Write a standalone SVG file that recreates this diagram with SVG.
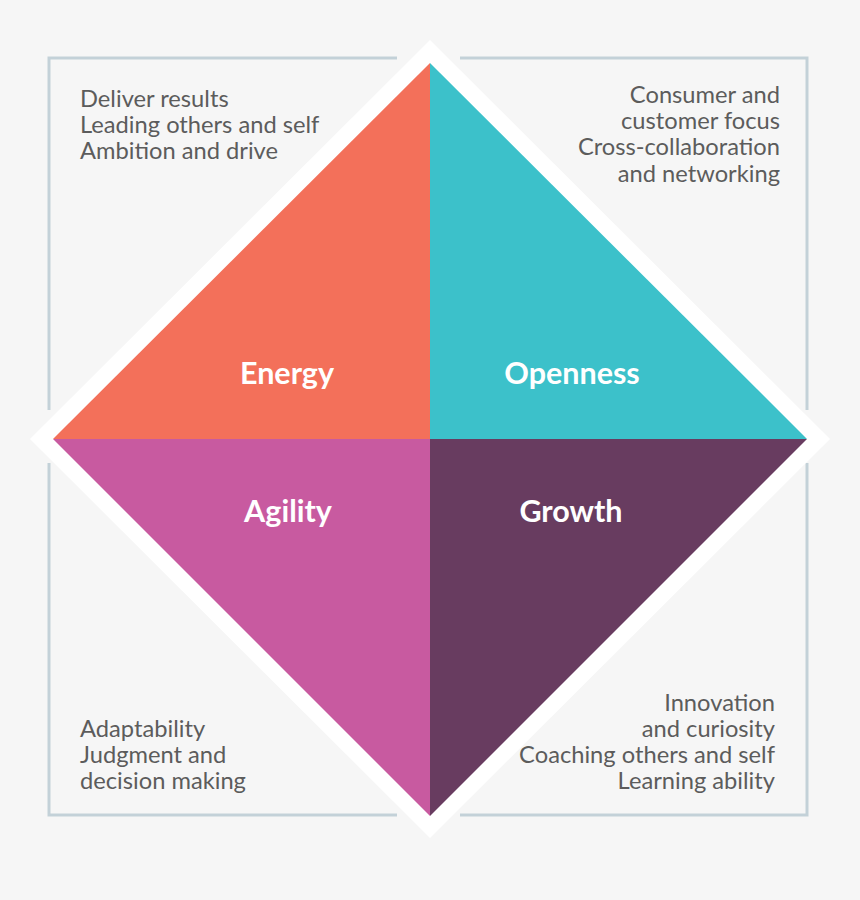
<svg xmlns="http://www.w3.org/2000/svg" width="860" height="900" viewBox="0 0 860 900">
<style>
.frame{fill:none;stroke:#c3d1d8;stroke-width:3}
.t{font-family:Lato,"Open Sans",sans-serif;font-size:23.7px;fill:#5c5c5c}
.r{text-anchor:end}
.lbl{font-family:Lato,"Open Sans",sans-serif;font-size:30.5px;font-weight:bold;fill:#ffffff;text-anchor:middle}
</style>
<rect width="860" height="900" fill="#f6f6f6"/>
<g id="connectors">
<path class="frame" d="M397,58 H49 V410"/>
<path class="frame" d="M49,463 V815 H397"/>
<path class="frame" d="M460,58 H807 V410"/>
<path class="frame" d="M807,463 V815 H460"/>
</g>
<polygon points="430,40 830,439 430,838 30,439" fill="#ffffff"/>
<g id="energy">
<polygon points="430,63 430,439 53,439" fill="#f3705a"/>
<text class="lbl" x="287" y="384">Energy</text>
</g>
<g id="openness">
<polygon points="430,63 807,439 430,439" fill="#3cc1ca"/>
<text class="lbl" x="572" y="384">Openness</text>
</g>
<g id="agility">
<polygon points="53,439 430,439 430,816" fill="#c85aa0"/>
<text class="lbl" x="288" y="522">Agility</text>
</g>
<g id="growth">
<polygon points="430,439 807,439 430,816" fill="#683c60"/>
<text class="lbl" x="571" y="522">Growth</text>
</g>
<g id="energy-text">
<text class="t" x="80" y="107">Deliver results</text>
<text class="t" x="80" y="133">Leading others and self</text>
<text class="t" x="80" y="159">Ambition and drive</text>
</g>
<g id="openness-text">
<text class="t r" x="780" y="103">Consumer and</text>
<text class="t r" x="780" y="129">customer focus</text>
<text class="t r" x="780" y="155">Cross-collaboration</text>
<text class="t r" x="780" y="182">and networking</text>
</g>
<g id="agility-text">
<text class="t" x="80" y="737">Adaptability</text>
<text class="t" x="80" y="763">Judgment and</text>
<text class="t" x="80" y="789">decision making</text>
</g>
<g id="growth-text">
<text class="t r" x="775" y="711">Innovation</text>
<text class="t r" x="775" y="737">and curiosity</text>
<text class="t r" x="775" y="763">Coaching others and self</text>
<text class="t r" x="775" y="789">Learning ability</text>
</g>
</svg>
